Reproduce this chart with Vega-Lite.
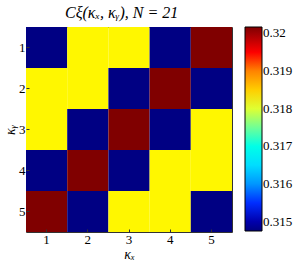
{
  "$schema": "https://vega.github.io/schema/vega-lite/v6.json",
  "width": 206,
  "height": 205,
  "autosize": "none",
  "padding": {"left": 26, "top": 27, "right": 69, "bottom": 31},
  "title": {"text": "Cξ(κₓ, κᵧ), N = 21", "font": "Liberation Serif", "fontStyle": "italic", "fontSize": 16, "fontWeight": "normal", "color": "black", "offset": 6, "anchor": "start", "frame": "group", "dx": 39},
  "data": {"values": [
    {"kx": 1, "ky": 1, "C": 0.31477}, {"kx": 2, "ky": 1, "C": 0.3182}, {"kx": 3, "ky": 1, "C": 0.3182}, {"kx": 4, "ky": 1, "C": 0.31477}, {"kx": 5, "ky": 1, "C": 0.32017},
    {"kx": 1, "ky": 2, "C": 0.3182}, {"kx": 2, "ky": 2, "C": 0.3182}, {"kx": 3, "ky": 2, "C": 0.31477}, {"kx": 4, "ky": 2, "C": 0.32017}, {"kx": 5, "ky": 2, "C": 0.31477},
    {"kx": 1, "ky": 3, "C": 0.3182}, {"kx": 2, "ky": 3, "C": 0.31477}, {"kx": 3, "ky": 3, "C": 0.32017}, {"kx": 4, "ky": 3, "C": 0.31477}, {"kx": 5, "ky": 3, "C": 0.3182},
    {"kx": 1, "ky": 4, "C": 0.31477}, {"kx": 2, "ky": 4, "C": 0.32017}, {"kx": 3, "ky": 4, "C": 0.31477}, {"kx": 4, "ky": 4, "C": 0.3182}, {"kx": 5, "ky": 4, "C": 0.3182},
    {"kx": 1, "ky": 5, "C": 0.32017}, {"kx": 2, "ky": 5, "C": 0.31477}, {"kx": 3, "ky": 5, "C": 0.3182}, {"kx": 4, "ky": 5, "C": 0.3182}, {"kx": 5, "ky": 5, "C": 0.31477}
  ]},
  "mark": {"type": "rect"},
  "encoding": {
    "x": {"field": "kx", "type": "ordinal", "scale": {"paddingInner": 0, "paddingOuter": 0},
      "axis": {"title": "κₓ", "labelAngle": 0, "domain": false, "tickSize": -3, "tickColor": "#333", "labelPadding": 4, "titlePadding": 1}},
    "y": {"field": "ky", "type": "ordinal", "scale": {"paddingInner": 0, "paddingOuter": 0},
      "axis": {"title": "κᵧ", "domain": false, "tickSize": -3, "tickColor": "#333", "labelPadding": 4, "titlePadding": 1}},
    "color": {"field": "C", "type": "quantitative",
      "scale": {"domain": [0.31475, 0.31543, 0.31678, 0.31814, 0.31949, 0.32017],
                "range": ["#000080", "#0000ff", "#00ffff", "#ffff00", "#ff0000", "#800000"],
                "clamp": true},
      "legend": {"title": null, "orient": "none", "legendX": 219, "legendY": 0, "direction": "vertical",
        "gradientLength": 204, "gradientThickness": 17, "gradientStrokeColor": "black", "gradientStrokeWidth": 1,
        "values": [0.315, 0.316, 0.317, 0.318, 0.319, 0.32], "format": ".3~f",
        "labelFont": "Liberation Serif", "labelFontSize": 13, "labelColor": "black", "labelOffset": 1}}
  },
  "config": {
    "view": {"stroke": "#333", "strokeWidth": 1},
    "axis": {"labelFont": "Liberation Serif", "labelFontSize": 13, "labelColor": "black",
      "titleFont": "Liberation Serif", "titleFontStyle": "italic", "titleFontWeight": "normal", "titleFontSize": 14, "titleColor": "black", "grid": false}
  }
}
